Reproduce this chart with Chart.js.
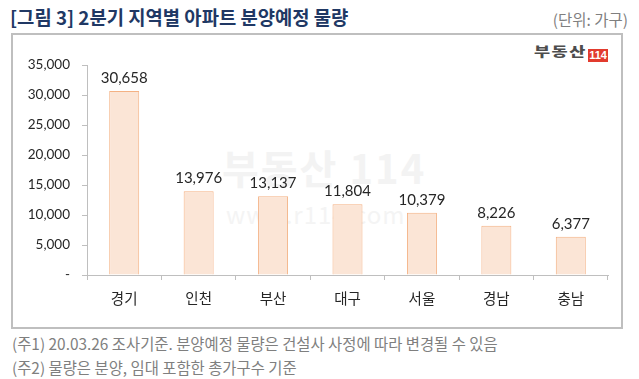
<!DOCTYPE html>
<html>
<head>
<meta charset="utf-8">
<script src="https://cdn.jsdelivr.net/npm/chart.js@4"></script>
<style>
  html, body { margin:0; padding:0; background:#fff; }
  body { width:639px; height:379px; position:relative; overflow:hidden; font-family:"Noto Sans CJK KR", sans-serif; }
  .abs { position:absolute; white-space:nowrap; }
  #title { left:10px; top:4px; font-size:18.8px; font-weight:bold; color:#203864; line-height:26px; }
  #unit { right:11px; top:7px; font-size:15.5px; color:#7f7f7f; line-height:24px; }
  #frame { left:11px; top:33px; width:608px; height:292px; border:2px solid #bfbfbf; }
  #wm1 { left:222px; top:138px; font-size:40px; font-weight:bold; color:#f3f3f3; letter-spacing:2px; }
  #wm2 { left:226px; top:196px; font-size:24px; color:#f4f4f4; letter-spacing:1px; }
  #logo { left:534px; top:47px; height:16px; }
  #logoTxt { position:absolute; left:0; top:-4px; font-size:17.5px; font-weight:900; color:#4d4d4d; transform:scaleY(0.72); transform-origin:top left; line-height:22px; letter-spacing:1.5px; }
  #logoBox { position:absolute; left:54px; top:2px; width:20px; height:13px; background:#e23b2e; color:#fff; font-size:11px; font-weight:bold; line-height:13px; text-align:center; font-family:"Liberation Sans", sans-serif; }
  #note1 { left:12px; top:332px; font-size:15.4px; color:#7f7f7f; line-height:22px; }
  #note2 { left:12px; top:356px; font-size:15.4px; color:#7f7f7f; line-height:22px; }
  #c { position:absolute; left:0; top:0; }
</style>
</head>
<body>
<div class="abs" id="title">[그림 3] 2분기 지역별 아파트 분양예정 물량</div>
<div class="abs" id="unit">(단위: 가구)</div>
<div class="abs" id="frame"></div>
<div class="abs" id="wm1">부동산 114</div>
<div class="abs" id="wm2">www.r114.com</div>
<div class="abs" id="logo"><span id="logoTxt">부동산</span><span id="logoBox">114</span></div>
<div class="abs" id="note1">(주1) 20.03.26 조사기준. 분양예정 물량은 건설사 사정에 따라 변경될 수 있음</div>
<div class="abs" id="note2">(주2) 물량은 분양, 임대 포함한 총가구수 기준</div>
<canvas id="c" width="639" height="379"></canvas>
<script>
const categories = ["경기", "인천", "부산", "대구", "서울", "경남", "충남"];
const units = [30658, 13976, 13137, 11804, 10379, 8226, 6377];
const yTicks = [0, 5000, 10000, 15000, 20000, 25000, 30000, 35000];

const fmt = v => v.toLocaleString('en-US');

const valueLabels = {
  id: 'valueLabels',
  afterDatasetsDraw(chart) {
    const ctx = chart.ctx;
    const meta = chart.getDatasetMeta(0);
    ctx.save();
    ctx.font = '15px Lato, "Noto Sans CJK KR", sans-serif';
    ctx.fillStyle = '#262626';
    ctx.textAlign = 'center';
    ctx.textBaseline = 'alphabetic';
    meta.data.forEach((el, i) => {
      ctx.fillText(fmt(units[i]), el.x, el.y - 8);
    });
    ctx.restore();
  }
};

new Chart(document.getElementById('c'), {
  type: 'bar',
  data: {
    labels: categories,
    datasets: [{
      data: units,
      backgroundColor: '#fbe5d6',
      borderColor: '#f4b183',
      borderWidth: 1,
      barPercentage: 0.806,
      categoryPercentage: 0.5
    }]
  },
  options: {
    responsive: false,
    animation: false,
    events: [],
    layout: { padding: { left: 0, top: 65, right: 31, bottom: 0 } },
    plugins: { legend: { display: false }, tooltip: { enabled: false } },
    scales: {
      x: {
        afterFit(s) { s.height = 104; },
        grid: { display: true, drawOnChartArea: false, drawTicks: true, tickLength: 5, color: '#bfbfbf', offset: true },
        border: { display: true, color: '#bfbfbf', width: 1 },
        ticks: { color: '#262626', padding: 10, font: { family: '"Noto Sans CJK KR", sans-serif', size: 14.5 } }
      },
      y: {
        min: 0, max: 35000,
        afterFit(s) { s.width = 87; },
        afterBuildTicks(s) { s.ticks = yTicks.map(v => ({ value: v })); },
        grid: { display: true, drawOnChartArea: false, drawTicks: true, tickLength: 5, color: '#bfbfbf' },
        border: { display: true, color: '#bfbfbf', width: 1 },
        ticks: {
          color: '#262626', padding: 12,
          font: { family: 'Lato, sans-serif', size: 13.5 },
          callback: v => v === 0 ? '-' : fmt(v)
        }
      }
    }
  },
  plugins: [valueLabels]
});
</script>
</body>
</html>
